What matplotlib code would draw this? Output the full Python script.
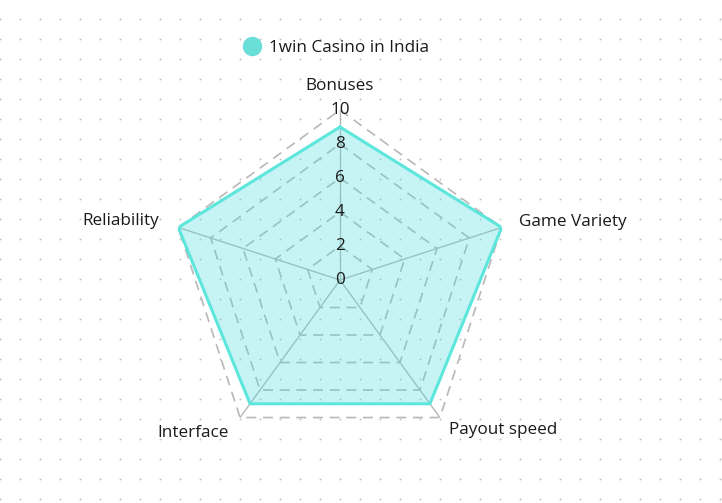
import numpy as np
import matplotlib.pyplot as plt

categories = ["Bonuses", "Game Variety", "Payout speed", "Interface", "Reliability"]
values = [9, 10, 9, 9, 10]
ring_ticks = [0, 2, 4, 6, 8, 10]
series_name = "1win Casino in India"

line_col = "#5ce6dc"
fill_col = "#45dde0"
grid_col = "#b8b8b8"
text_col = "#1a1a1a"

plt.rcParams['font.family'] = ['Open Sans', 'DejaVu Sans']

W, H = 722, 503
fig = plt.figure(figsize=(W / 100, H / 100), dpi=100)

# dotted backdrop
bg = fig.add_axes([0, 0, 1, 1], zorder=0)
bg.set_xlim(0, W)
bg.set_ylim(H, 0)
bg.axis('off')
gx, gy = np.meshgrid(np.arange(0, W + 1, 20), np.arange(19, H + 1, 20))
bg.scatter(gx.ravel(), gy.ravel(), s=1.8, color="#c0c0c0", linewidths=0)

# radar, centre (340, 280) px, radius 170 px
cx, cy, R = 340, 280, 170
ax = fig.add_axes([(cx - R) / W, (H - cy - R) / H, 2 * R / W, 2 * R / H],
                  projection='polar', zorder=1)
ax.patch.set_alpha(0)
ax.set_theta_offset(np.pi / 2)
ax.set_theta_direction(-1)
ax.set_ylim(0, 10)
ax.grid(False)
ax.spines['polar'].set_visible(False)
ax.set_xticks([])
ax.set_yticks([])

n = len(categories)
theta = np.arange(n) * 2 * np.pi / n
tc = np.append(theta, theta[0])

for v in ring_ticks[1:]:
    ax.plot(tc, [v] * (n + 1), color=grid_col, lw=1.2, ls=(0, (6, 4)), zorder=2)
for t in theta:
    ax.plot([t, t], [0, 10], color=grid_col, lw=1.0, zorder=2)

vals = np.append(values, values[0])
ax.fill(tc, vals, color=fill_col, alpha=0.3, lw=0, zorder=3)
ax.plot(tc, vals, color=line_col, lw=2.2, zorder=4)

for v in ring_ticks:
    ax.text(0, v, str(v), ha='center', va='center', fontsize=12.3, color=text_col, zorder=5)

label_pos = [(11.4, 'center'), (11.1, 'left'), (10.9, 'left'), (11.1, 'right'), (11.2, 'right')]
for t, name, (r, ha) in zip(theta, categories, label_pos):
    ax.text(t, r, name, ha=ha, va='center', fontsize=12.3, color=text_col, clip_on=False)

h = plt.Line2D([], [], marker='o', ls='', markersize=13, color="#6adfd8")
fig.legend([h], [series_name], loc='center', bbox_to_anchor=(335 / W, 1 - 48 / H),
           frameon=False, fontsize=12.3, handlelength=1.2, handletextpad=0.4,
           labelcolor=text_col)

fig.savefig("out.png", dpi=100)
